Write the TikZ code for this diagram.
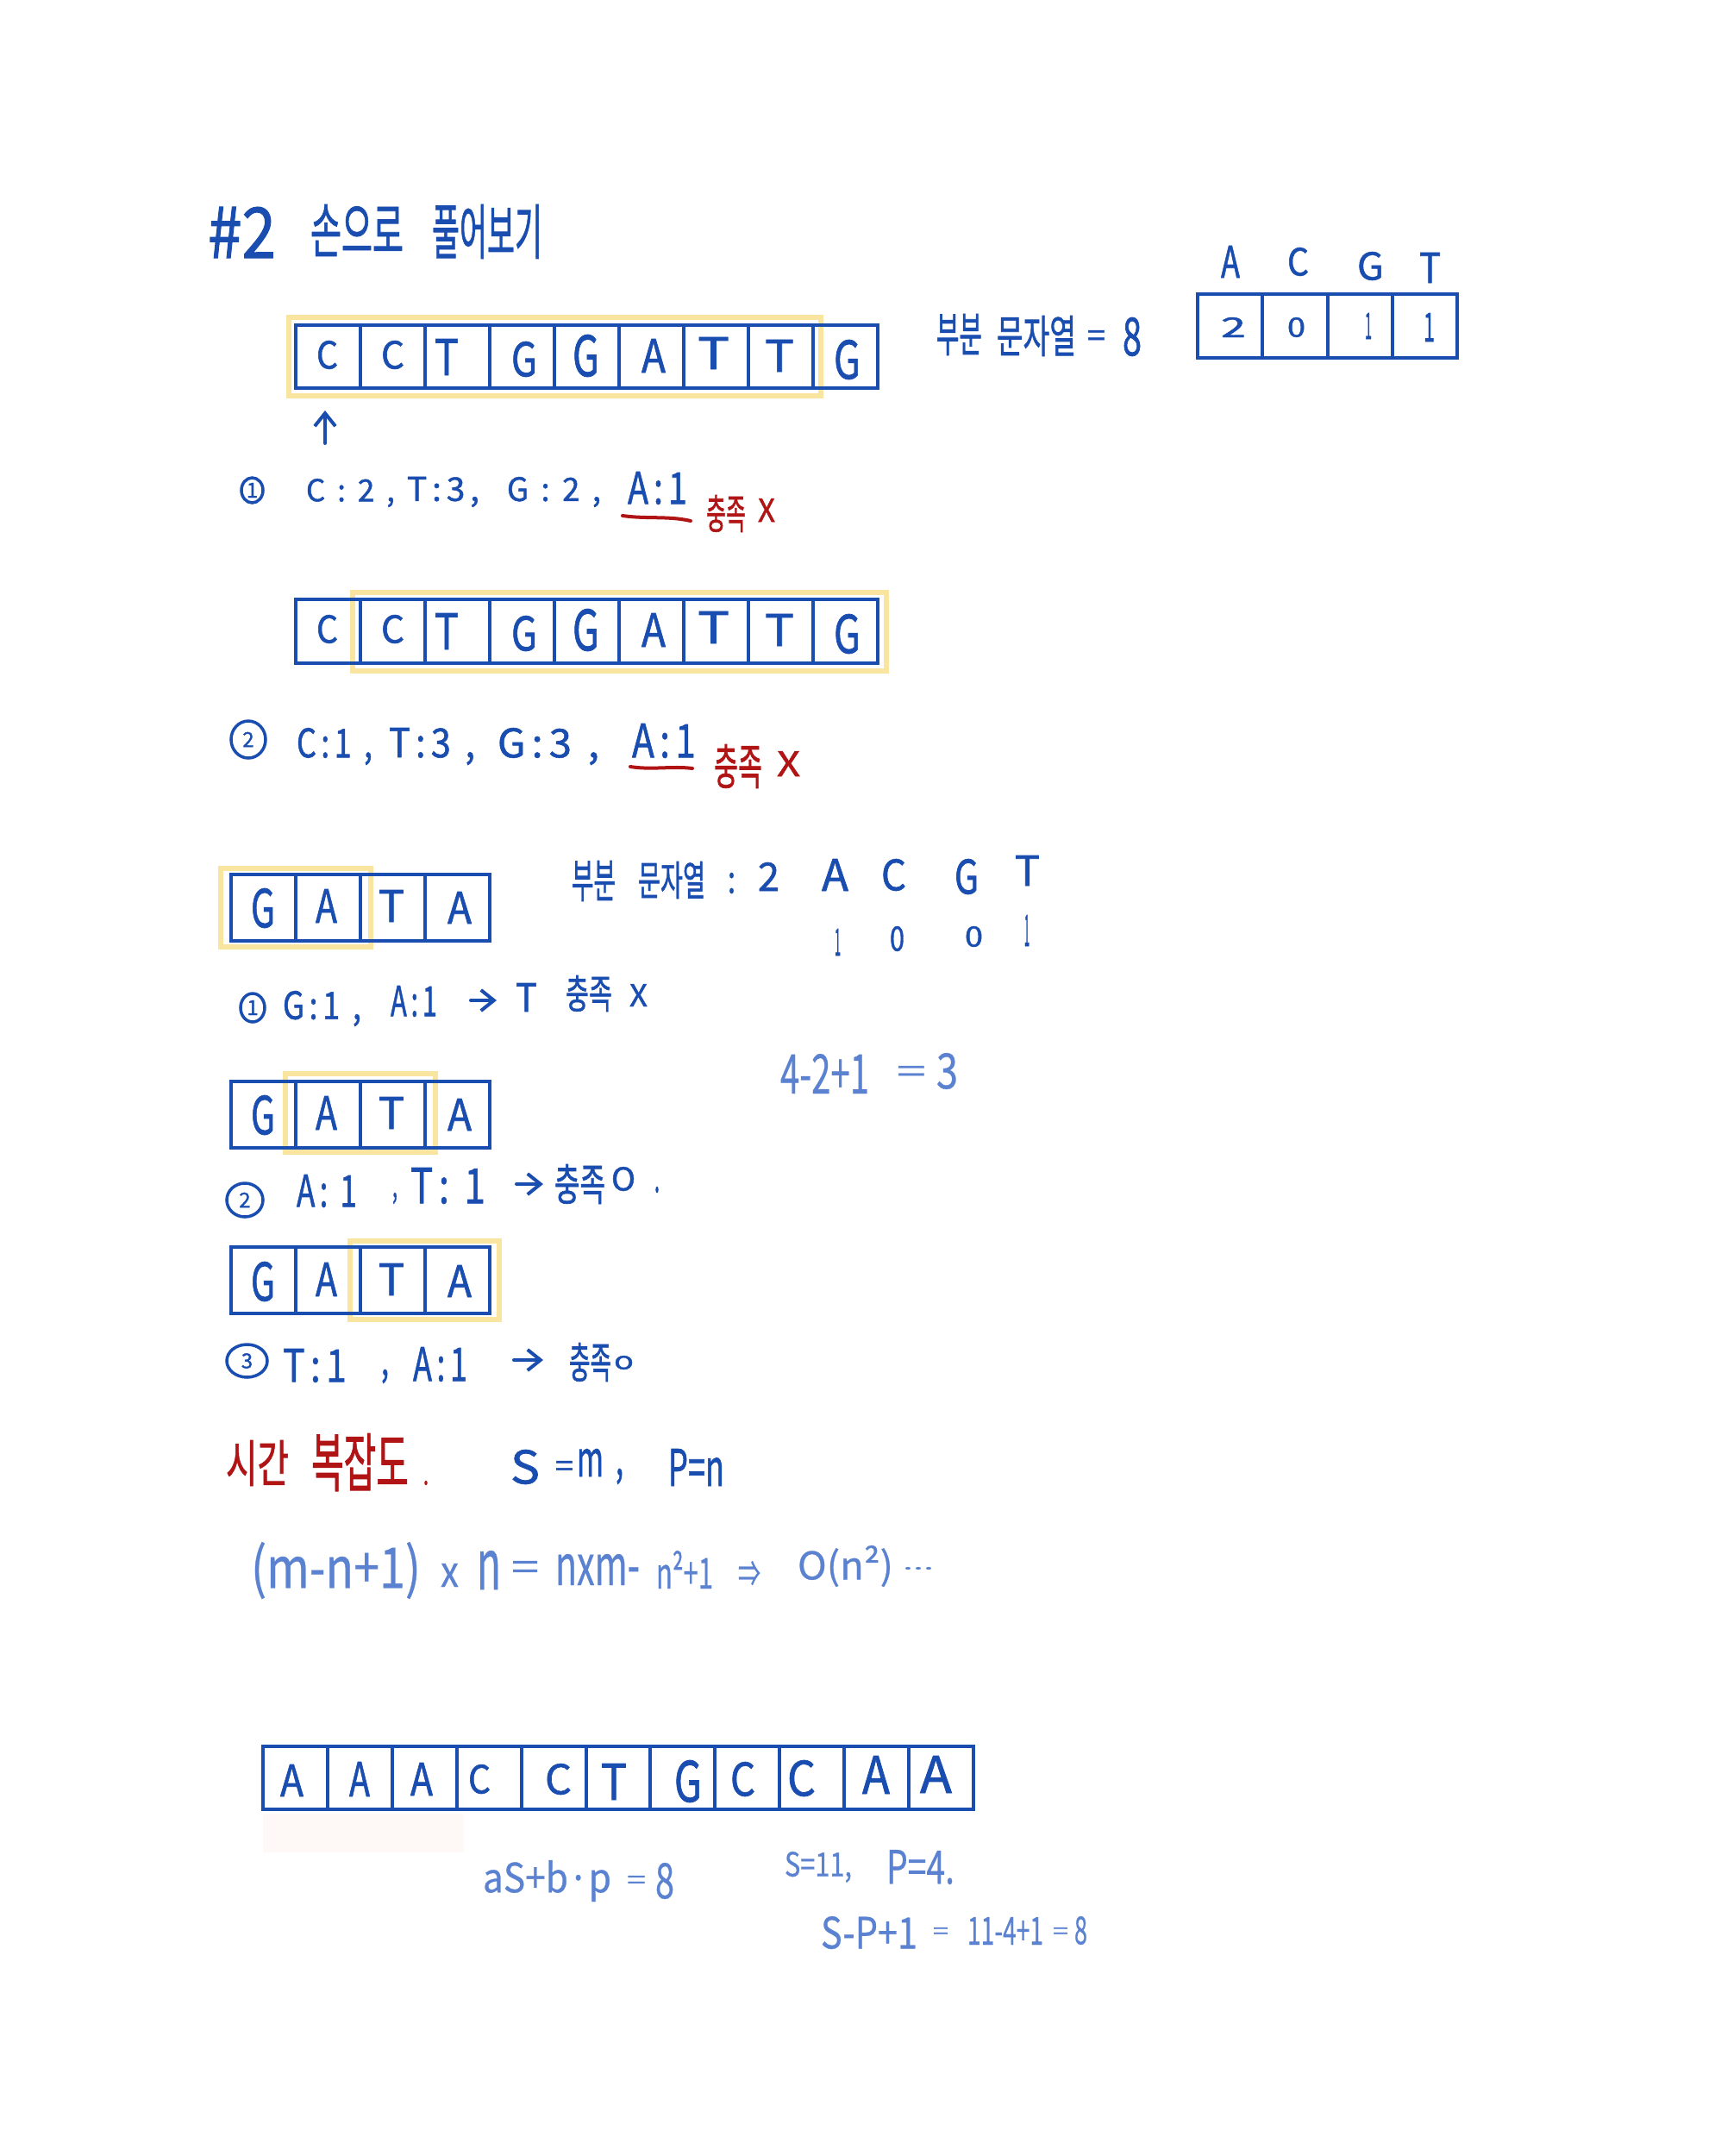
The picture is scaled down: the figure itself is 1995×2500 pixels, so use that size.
\documentclass[tikz,border=0pt]{standalone}
\usepackage{fontspec}
\usepackage{graphicx}
\setmainfont[FakeBold=1.3]{Noto Sans CJK KR}
\newfontfamily\palefont[FakeBold=0.6]{Noto Sans CJK KR}
\usetikzlibrary{arrows.meta,shapes.geometric}
\definecolor{inkblue}{HTML}{1A4DB0}
\definecolor{paleink}{HTML}{5B82D0}
\definecolor{inkred}{HTML}{B01414}
\definecolor{marker}{HTML}{FAE5A0}
\definecolor{smudge}{HTML}{FEF9F7}
\newcommand\gp{\kern.4em}
\newcommand\gs{\kern.15em}
\newcount\hwcount
\newcommand\hw[6][hand]{%
  \global\advance\hwcount by 1
  \pgfmathsetmacro\hwW{(#4)-(#2)}\pgfmathsetmacro\hwH{(#5)-(#3)}%
  \node[#1] (t\the\hwcount) at ({((#2)+(#4))/2},{((#3)+(#5))/2}) {\resizebox*{\hwW pt}{\hwH pt}{#6}};}
\newcommand\circnum[6]{% name x1 y1 x2 y2 digit
  \pgfmathsetmacro\hwW{(#4)-(#2)}\pgfmathsetmacro\hwH{(#5)-(#3)}%
  \node[numring,minimum width=\hwW pt,minimum height=\hwH pt] (#1) at ({((#2)+(#4))/2},{((#3)+(#5))/2}) {\fontsize{24}{24}\selectfont #6};}
\newcommand\cellrow[6]{% name x ytop ybot n width
  \foreach \i in {1,...,#5}{
    \pgfmathsetmacro\cx{#2+(\i-.5)*#6}
    \pgfmathsetmacro\ch{#4-#3}
    \node[cellbox,minimum width=#6 pt,minimum height=\ch pt] (#1\i) at (\cx,{(#3+#4)/2}) {};
  }}
\newcommand\highlight[4]{\draw[markbox] (#1,#2) rectangle (#3,#4);}
\newcommand\longletters[1]{%
  \hw{367}{395+#1}{392}{428+#1}{C}
  \hw{442}{395+#1}{469}{428+#1}{C}
  \hw{504}{393+#1}{532}{435+#1}{T}
  \hw{593}{396+#1}{623}{437+#1}{G}
  \hw{664}{388+#1}{695}{437+#1}{G}
  \hw{744}{393+#1}{772}{432+#1}{A}
  \hw{809}{391+#1}{846}{428+#1}{T}
  \hw{887}{394+#1}{921}{431+#1}{T}
  \hw{967}{394+#1}{998}{440+#1}{G}}
\newcommand\gataletters[1]{%
  \hw{291}{1030+#1}{319}{1076+#1}{G}
  \hw{366}{1031+#1}{391}{1070+#1}{A}
  \hw{439}{1032+#1}{469}{1069+#1}{T}
  \hw{519}{1034+#1}{547}{1071+#1}{A}}
\tikzset{
  x=1pt,y=-1pt,
  hand/.style={inner sep=0pt,text=inkblue},
  pale/.style={inner sep=0pt,text=paleink,font=\palefont},
  redhand/.style={inner sep=0pt,text=inkred},
  cellbox/.style={draw=inkblue,line width=4pt,inner sep=0pt,fill=none},
  markbox/.style={draw=marker,line width=6.5pt},
  numring/.style={ellipse,draw=inkblue,line width=3.5pt,inner sep=0pt,text=inkblue},
  penline/.style={draw=inkblue,line width=4pt,line cap=round},
  pointer/.style={penline,-{Straight Barb[length=15pt,width=24pt]}},
  redline/.style={draw=inkred,line width=4pt,line cap=round}
}
\begin{document}
\begin{tikzpicture}
\useasboundingbox[fill=white] (0,0) rectangle (1995,2500);
% faint smudge
\fill[smudge] (305,2103) rectangle (538,2148);
% highlights under the cells
\highlight{335}{368}{952}{459}
\highlight{409}{687}{1028}{778}
\highlight{256}{1007}{430}{1098}
\highlight{331}{1245}{505}{1336}
\highlight{406}{1439}{579}{1530}
% cell rows
\cellrow{a}{343}{377}{450}{9}{75}
\cellrow{q}{1389}{341}{415}{4}{75.25}
\cellrow{b}{343}{695}{769}{9}{75}
\cellrow{c}{268}{1014}{1091}{4}{75}
\cellrow{d}{268}{1254}{1331}{4}{75}
\cellrow{e}{268}{1446}{1523}{4}{75}
\cellrow{f}{305}{2025}{2098}{11}{74.9}
% title
\hw{241}{240}{320}{299}{\#2}
\hw{360}{237}{468}{297}{손으로}
\hw{501}{237}{629}{300}{풀어보기}
% count table
\hw{1416}{285}{1438}{322}{A}
\hw{1493}{287}{1518}{320}{C}
\hw{1574}{292}{1605}{325}{G}
\hw{1646}{293}{1671}{328}{T}
\hw{1416}{368}{1445}{391}{2}
\hw{1493}{368}{1514}{391}{0}
\hw{1583}{363}{1591}{393}{1}
\hw{1651}{363}{1664}{396}{1}
\hw{1086}{364}{1139}{412}{부분}
\hw{1156}{366}{1248}{413}{문자열}
\hw{1261}{383}{1282}{402}{=}
\hw{1302}{368}{1324}{413}{8}
% first string
\longletters{0}
\coordinate (ps) at (377,514);
\coordinate (pe) at (377,476);
\draw[pointer] (ps) -- (pe);
\circnum{n1}{280}{554}{305}{583}{1}
\hw{355}{555}{458}{588}{C\gp:\gp2\gp,}
\hw{472}{553}{556}{588}{T\gs:\gs3\gs,}
\hw{588}{553}{697}{588}{G\gp:\gp2\gp,}
\hw{728}{547}{797}{585}{A\gs:\gs1}
\coordinate (ua) at (722,598);
\coordinate (ub) at (801,604);
\draw[redline] (ua) .. controls (750,602) and (775,598) .. (ub);
\hw[redhand]{819}{574}{865}{617}{충족}
\hw[redhand]{879}{578}{899}{605}{X}
% second string
\longletters{318}
\circnum{n2}{268}{836}{308}{879}{2}
\hw{344}{844}{432}{887}{C\gs:\gs1\gp,}
\hw{451}{844}{551}{887}{T\gs:\gs3\gp,}
\hw{577}{844}{695}{887}{G\gs:\gs3\gp,}
\hw{733}{839}{807}{879}{A\gs:\gs1}
\coordinate (va) at (731,889);
\coordinate (vb) at (803,891);
\draw[redline] (va) .. controls (755,893) and (780,888) .. (vb);
\hw[redhand]{828}{863}{884}{914}{충족}
\hw[redhand]{901}{871}{928}{900}{X}
% GATA
\gataletters{0}
\hw{663}{998}{714}{1045}{부분}
\hw{740}{999}{818}{1042}{문자열}
\hw{844}{1012}{853}{1036}{:}
\hw{879}{1000}{904}{1033}{2}
\hw{953}{996}{984}{1033}{A}
\hw{1022}{996}{1051}{1033}{C}
\hw{1107}{996}{1135}{1037}{G}
\hw{1177}{992}{1206}{1027}{T}
\hw{968}{1077}{975}{1108}{1}
\hw{1032}{1074}{1049}{1103}{0}
\hw{1119}{1074}{1140}{1098}{0}
\hw{1188}{1061}{1194}{1097}{1}
\circnum{n3}{279}{1152}{307}{1185}{1}
\hw{328}{1149}{419}{1190}{G\gs:\gs1\gp,}
\hw{453}{1143}{507}{1179}{A\gs:\gs1}
\coordinate (ga) at (546,1160);
\coordinate (gb) at (576,1160);
\draw[pointer] (ga) -- (gb);
\hw{598}{1140}{623}{1173}{T}
\hw{656}{1131}{710}{1173}{충족}
\hw{730}{1141}{751}{1167}{X}
\hw[pale]{905}{1222}{1008}{1268}{4-2+1}
\hw[pale]{1040}{1236}{1074}{1255}{=}
\hw[pale]{1086}{1221}{1111}{1263}{3}
\gataletters{240}
\circnum{n4}{263}{1372}{305}{1411}{2}
\hw{344}{1362}{414}{1400}{A\gs:\gp1}
\hw{455}{1383}{461}{1396}{,}
\hw{476}{1354}{563}{1396}{T\gs:\gp1}
\coordinate (ha) at (599,1373);
\coordinate (hb) at (630,1373);
\draw[pointer] (ha) -- (hb);
\hw{643}{1350}{702}{1396}{충족}
\hw{709}{1353}{737}{1381}{O}
\hw{759}{1376}{765}{1383}{.}
\gataletters{433}
\circnum{n5}{263}{1559}{310}{1597}{3}
\hw{328}{1564}{402}{1603}{T\gs:\gs1}
\hw{442}{1588}{451}{1604}{,}
\hw{479}{1562}{542}{1602}{A\gs:\gs1}
\coordinate (ia) at (596,1577);
\coordinate (ib) at (630,1577);
\draw[pointer] (ia) -- (ib);
\hw{660}{1557}{709}{1602}{충족}
\hw{712}{1572}{735}{1588}{o}
% complexity
\hw[redhand]{262}{1670}{335}{1723}{시간}
\hw[redhand]{361}{1662}{474}{1729}{복잡도}
\hw[redhand]{491}{1717}{497}{1722}{.}
\hw{592}{1681}{626}{1721}{S}
\hw{644}{1694}{665}{1712}{=}
\hw{669}{1680}{700}{1712}{m}
\hw{714}{1703}{723}{1721}{,}
\hw{775}{1680}{840}{1723}{P=n}
\hw[pale]{291}{1788}{488}{1854}{(m-n+1)}
\hw[pale]{511}{1813}{532}{1840}{x}
\hw[pale]{553}{1798}{581}{1843}{n}
\hw[pale]{593}{1810}{625}{1832}{=}
\hw[pale]{644}{1802}{742}{1838}{nxm-}
\hw[pale]{761}{1798}{827}{1842}{n²+1}
\hw[pale]{856}{1810}{882}{1840}{⇒}
\hw[pale]{925}{1792}{1036}{1840}{O(n²)}
\hw[pale]{1047}{1817}{1083}{1820}{...}
% last string
\hw{325}{2046}{352}{2083}{A}
\hw{405}{2043}{429}{2083}{A}
\hw{476}{2044}{502}{2082}{A}
\hw{543}{2046}{569}{2080}{C}
\hw{632}{2045}{663}{2081}{C}
\hw{697}{2045}{727}{2087}{T}
\hw{782}{2041}{814}{2090}{G}
\hw{847}{2043}{876}{2083}{C}
\hw{913}{2041}{946}{2083}{C}
\hw{1000}{2036}{1032}{2080}{A}
\hw{1067}{2036}{1104}{2079}{A}
\hw[pale]{560}{2157}{709}{2205}{aS+b·p}
\hw[pale]{727}{2175}{749}{2190}{=}
\hw[pale]{760}{2160}{782}{2202}{8}
\hw[pale]{910}{2147}{988}{2183}{S=11,}
\hw[pale]{1028}{2145}{1107}{2185}{P=4.}
\hw[pale]{952}{2222}{1064}{2260}{S-P+1}
\hw[pale]{1082}{2235}{1100}{2248}{=}
\hw[pale]{1122}{2223}{1210}{2255}{11-4+1}
\hw[pale]{1221}{2235}{1239}{2248}{=}
\hw[pale]{1246}{2222}{1261}{2255}{8}
\end{tikzpicture}
\end{document}
